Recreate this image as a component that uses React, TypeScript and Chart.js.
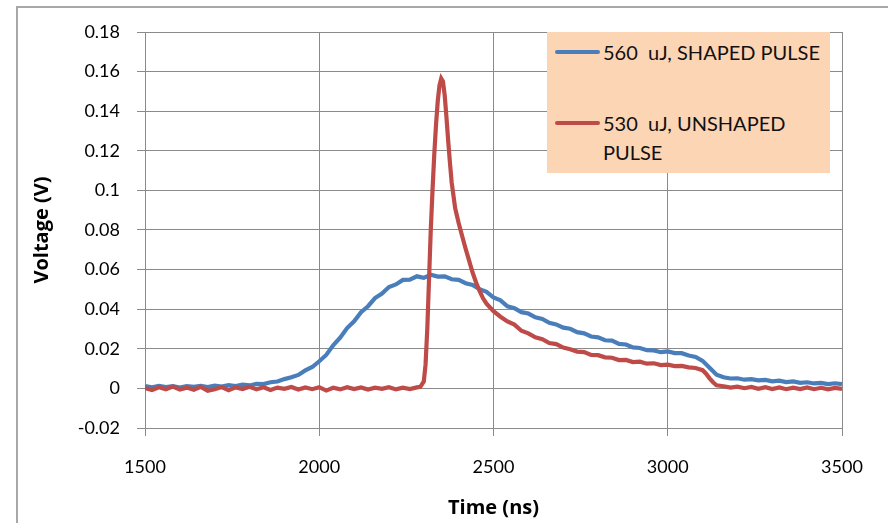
import React, { useEffect, useRef } from "react";
import { Chart, registerables } from "chart.js";

Chart.register(...registerables);

// ---- data ----
const shapedLabel = "560  uJ, SHAPED PULSE";
const unshapedLabelLines = ["530  uJ, UNSHAPED", "PULSE"];

const shapedTime = [
  1500, 1520, 1540, 1560, 1580, 1600, 1620, 1640, 1660, 1680, 1700, 1720, 1740, 1760, 1780, 1800,
  1820, 1840, 1860, 1880, 1900, 1920, 1940, 1960, 1980, 2000, 2020, 2040, 2060, 2080, 2100, 2120,
  2140, 2160, 2180, 2200, 2220, 2240, 2260, 2280, 2300, 2320, 2340, 2360, 2380, 2400, 2420, 2440,
  2460, 2480, 2500, 2520, 2540, 2560, 2580, 2600, 2620, 2640, 2660, 2680, 2700, 2720, 2740, 2760,
  2780, 2800, 2820, 2840, 2860, 2880, 2900, 2920, 2940, 2960, 2980, 3000, 3020, 3040, 3060, 3080,
  3100, 3120, 3140, 3160, 3180, 3200, 3220, 3240, 3260, 3280, 3300, 3320, 3340, 3360, 3380, 3400,
  3420, 3440, 3460, 3480, 3500,
];
const shapedVoltage = [
  0.0012, 0.0006, 0.0013, 0.0007, 0.0011, 0.0004, 0.0012, 0.0008, 0.0013, 0.0007, 0.0014, 0.0009,
  0.0016, 0.0012, 0.0019, 0.0015, 0.0023, 0.0022, 0.0031, 0.0035, 0.0047, 0.0056, 0.0068, 0.0091,
  0.0108, 0.0137, 0.0169, 0.0218, 0.0256, 0.0305, 0.0339, 0.0385, 0.0415, 0.0456, 0.0479, 0.0512,
  0.0525, 0.0548, 0.0549, 0.0566, 0.0558, 0.0574, 0.0565, 0.0566, 0.0551, 0.0548, 0.0531, 0.0523,
  0.0501, 0.0488, 0.0459, 0.0445, 0.0415, 0.0405, 0.0385, 0.0378, 0.0359, 0.0351, 0.0331, 0.0323,
  0.0307, 0.0301, 0.0284, 0.0278, 0.0262, 0.0258, 0.0243, 0.0241, 0.0225, 0.0222, 0.0207, 0.0204,
  0.0193, 0.0192, 0.0183, 0.0187, 0.0178, 0.0178, 0.0166, 0.0159, 0.0139, 0.0104, 0.0069, 0.0056,
  0.005, 0.0051, 0.0044, 0.0047, 0.0041, 0.0043, 0.0036, 0.0039, 0.0032, 0.0035, 0.0028, 0.0031,
  0.0025, 0.0028, 0.0022, 0.0026, 0.0021,
];

const unshapedTime = [
  1500, 1520, 1540, 1560, 1580, 1600, 1620, 1640, 1660, 1680, 1700, 1720, 1740, 1760, 1780, 1800,
  1820, 1840, 1860, 1880, 1900, 1920, 1940, 1960, 1980, 2000, 2020, 2040, 2060, 2080, 2100, 2120,
  2140, 2160, 2180, 2200, 2220, 2240, 2260, 2280, 2290, 2300, 2305, 2310, 2315, 2320, 2325, 2330,
  2335, 2340, 2345, 2350, 2355, 2360, 2365, 2370, 2375, 2380, 2390, 2400, 2410, 2420, 2430, 2440,
  2450, 2460, 2470, 2480, 2500, 2520, 2540, 2560, 2580, 2600, 2620, 2640, 2660, 2680, 2700, 2720,
  2740, 2760, 2780, 2800, 2820, 2840, 2860, 2880, 2900, 2920, 2940, 2960, 2980, 3000, 3020, 3040,
  3060, 3080, 3100, 3110, 3120, 3130, 3140, 3160, 3180, 3200, 3220, 3240, 3260, 3280, 3300, 3320,
  3340, 3360, 3380, 3400, 3420, 3440, 3460, 3480, 3500,
];
const unshapedVoltage = [
  0.0002, -0.0008, 0.0006, -0.0004, 0.0009, -0.0006, 0.0004, -0.0007, 0.0008, -0.0012, -0.0004,
  0.0007, -0.0009, 0.0005, -0.0003, 0.0008, -0.0005, 0.0006, -0.0008, 0.0004, -0.0002, 0.0007,
  -0.0006, 0.0005, -0.0004, 0.0006, -0.0011, 0.0003, -0.0005, 0.0006, -0.0003, 0.0005, -0.0006,
  0.0004, -0.0002, 0.0006, -0.0005, 0.0004, -0.0003, 0.0005, 0.0008, 0.0035, 0.012, 0.03, 0.055,
  0.08, 0.1, 0.118, 0.133, 0.145, 0.153, 0.1565, 0.155, 0.148, 0.137, 0.125, 0.114, 0.104, 0.091,
  0.0835, 0.077, 0.0705, 0.0645, 0.0585, 0.0535, 0.0492, 0.0455, 0.0428, 0.039, 0.0362, 0.0338,
  0.0322, 0.0291, 0.0278, 0.0258, 0.0249, 0.0229, 0.0224, 0.0206, 0.0198, 0.0186, 0.0183, 0.0169,
  0.0168, 0.0157, 0.0155, 0.0143, 0.0144, 0.0133, 0.0135, 0.0125, 0.0127, 0.0118, 0.012, 0.0113,
  0.0114, 0.0106, 0.0103, 0.0092, 0.0074, 0.0051, 0.0031, 0.0016, 0.0011, 0.0004, 0.0009, 0.0001,
  0.0007, -0.0002, 0.0006, -0.0003, 0.0005, -0.0004, 0.0004, -0.0003, 0.0005, -0.0004, 0.0003,
  -0.0005, 0.0002, -0.0003,
];

const xTickValues = [1500, 2000, 2500, 3000, 3500];
const xTickLabels = ["1500", "2000", "2500", "3000", "3500"];
const yTickValues = [-0.02, 0, 0.02, 0.04, 0.06, 0.08, 0.1, 0.12, 0.14, 0.16, 0.18];
const yTickLabels = ["-0.02", "0", "0.02", "0.04", "0.06", "0.08", "0.1", "0.12", "0.14", "0.16", "0.18"];

const xTitle = "Time (ns)";
const yTitle = "Voltage (V)";

const BLUE = "#4A7EBB";
const RED = "#BE4B48";
const GRID = "#8a8a8a";
const FONT = "Lato, 'Open Sans', sans-serif";
const TITLE_FONT = "'Open Sans', Lato, sans-serif";

export default function App() {
  const ref = useRef<HTMLCanvasElement | null>(null);

  useEffect(() => {
    if (!ref.current) return;
    const chart = new Chart(ref.current, {
      type: "scatter",
      data: {
        datasets: [
          {
            label: shapedLabel,
            data: shapedTime.map((t, i) => ({ x: t, y: shapedVoltage[i] })),
            borderColor: BLUE,
            backgroundColor: BLUE,
            borderWidth: 4.2,
            showLine: true,
            pointRadius: 0,
            order: 1,
          },
          {
            label: unshapedLabelLines.join(" "),
            data: unshapedTime.map((t, i) => ({ x: t, y: unshapedVoltage[i] })),
            borderColor: RED,
            backgroundColor: RED,
            borderWidth: 4.2,
            showLine: true,
            pointRadius: 0,
            order: 0,
          },
        ],
      },
      options: {
        responsive: false,
        animation: false,
        events: [],
        layout: { padding: { left: 0, right: 46, top: 32, bottom: 0 } },
        plugins: { legend: { display: false }, tooltip: { enabled: false } },
        scales: {
          x: {
            type: "linear",
            min: 1500,
            max: 3500,
            afterFit: (s: any) => {
              s.height = 95;
            },
            afterBuildTicks: (s: any) => {
              s.ticks = xTickValues.map((v) => ({ value: v }));
            },
            ticks: {
              callback: (_v: any, i: number) => xTickLabels[i],
              color: "#000",
              font: { family: FONT, size: 18 },
              padding: 20,
              maxRotation: 0,
            },
            grid: { color: GRID, lineWidth: 1, tickLength: 8, drawTicks: true },
            border: { color: GRID, width: 1 },
            title: {
              display: true,
              text: xTitle,
              color: "#000",
              font: { family: TITLE_FONT, size: 20, weight: "bold" },
              padding: { top: 0, bottom: 3 },
            },
          },
          y: {
            type: "linear",
            min: -0.02,
            max: 0.18,
            afterFit: (s: any) => {
              s.width = 145;
            },
            afterBuildTicks: (s: any) => {
              s.ticks = yTickValues.map((v) => ({ value: v }));
            },
            ticks: {
              callback: (_v: any, i: number) => yTickLabels[i],
              color: "#000",
              font: { family: FONT, size: 18 },
              padding: 17,
            },
            grid: { color: GRID, lineWidth: 1, tickLength: 8, drawTicks: true },
            border: { color: GRID, width: 1 },
            title: {
              display: true,
              text: yTitle,
              color: "#000",
              font: { family: TITLE_FONT, size: 20, weight: "bold" },
              padding: { top: 30, bottom: 0 },
            },
          },
        },
      },
    });
    return () => chart.destroy();
  }, []);

  const textStyle: React.CSSProperties = {
    position: "absolute",
    left: 56,
    fontFamily: FONT,
    fontSize: 20,
    lineHeight: "28.5px",
    color: "#111",
    whiteSpace: "pre",
  };

  return (
    <div
      style={{
        position: "absolute",
        left: 0,
        top: 0,
        width: 888,
        height: 523,
        overflow: "hidden",
        background: "#fff",
      }}
    >
      <div
        style={{
          position: "absolute",
          left: 16,
          top: 6,
          width: 1000,
          height: 1000,
          border: "2px solid #a8a8a8",
        }}
      />
      <canvas ref={ref} width={888} height={523} style={{ position: "absolute", left: 0, top: 0 }} />
      <div
        style={{
          position: "absolute",
          left: 547,
          top: 32,
          width: 283,
          height: 141,
          background: "#FCD5B4",
        }}
      >
        <div style={{ position: "absolute", left: 8, top: 18, width: 45, height: 4, borderRadius: 2, background: BLUE }} />
        <div style={{ ...textStyle, top: 6 }}>{shapedLabel}</div>
        <div style={{ position: "absolute", left: 8, top: 89, width: 45, height: 4, borderRadius: 2, background: RED }} />
        <div style={{ ...textStyle, top: 77 }}>
          {unshapedLabelLines[0]}
          <br />
          {unshapedLabelLines[1]}
        </div>
      </div>
    </div>
  );
}
